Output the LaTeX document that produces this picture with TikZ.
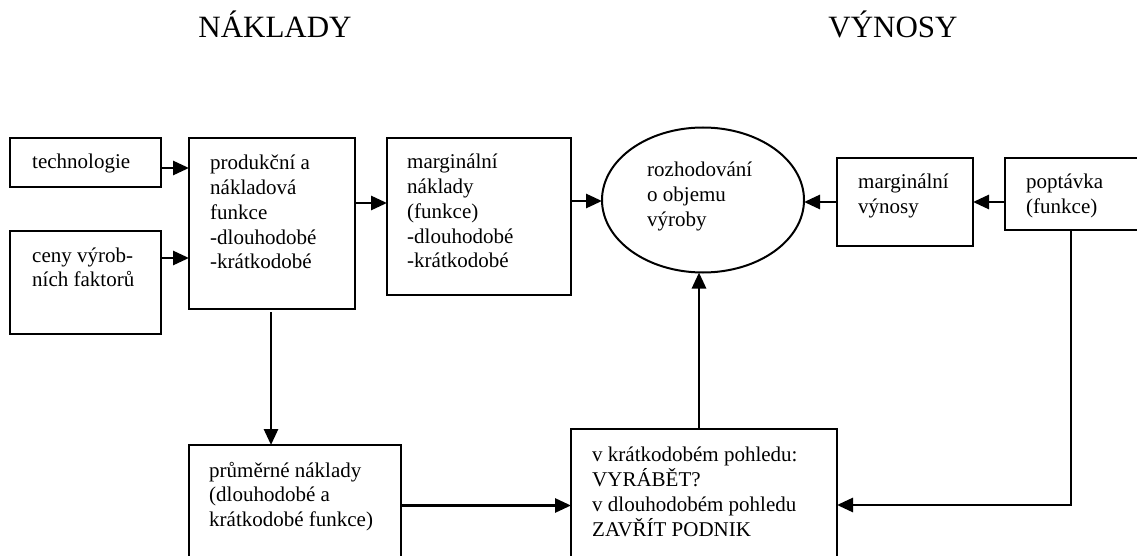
\documentclass[tikz,border=0pt]{standalone}
\usepackage{fontspec}
\setmainfont{Liberation Serif}
\usetikzlibrary{arrows.meta,shapes.geometric,calc}
\tikzset{
  box/.style={draw, line width=2.5pt, inner sep=0pt, outer sep=0pt},
  ell/.style={draw, ellipse, line width=2pt, inner sep=0pt, outer sep=0pt},
  arr/.style={line width=2.8pt, -{Triangle[length=16pt,width=14pt]}},
  txt/.style={anchor=base west, inner sep=0pt, font=\fontsize{21}{24.7}\selectfont},
  ttl/.style={anchor=base, inner sep=0pt, font=\fontsize{31}{36}\selectfont}
}
\newcommand{\lines}[1]{\begin{tabular}[t]{@{}l@{}}#1\end{tabular}}
\begin{document}
\begin{tikzpicture}[x=1pt,y=-1pt]
\useasboundingbox (0,0) rectangle (1137,556);
% titles
\node[ttl] (tnak) at (275,38) {NÁKLADY};
\node[ttl] (tvyn) at (893,38) {VÝNOSY};
% boxes
\node[box, minimum width=151, minimum height=49] (tech) at (85.5,162.5) {};
\node[box, minimum width=151, minimum height=103] (ceny) at (85.5,282.5) {};
\node[box, minimum width=166, minimum height=171] (prod) at (272,223.5) {};
\node[box, minimum width=184, minimum height=157] (marg) at (479,216.5) {};
\node[ell, minimum width=202, minimum height=145] (roz) at (703,200) {};
\node[box, minimum width=136, minimum height=88] (mvyn) at (905,202) {};
\node[box, minimum width=140, minimum height=72] (popt) at (1075,194) {};
\node[box, minimum width=212, minimum height=121] (prum) at (295,505.5) {};
\node[box, minimum width=266, minimum height=137] (vkrat) at (704,497.5) {};
% texts
\node[txt] (ttech) at ($(tech.north west)+(22,31)$) {\lines{technologie}};
\node[txt] (tceny) at ($(ceny.north west)+(22,31)$) {\lines{ceny výrob-\\ních faktorů}};
\node[txt] (tprod) at ($(prod.north west)+(21,32)$) {\lines{produkční a\\nákladová\\funkce\\-dlouhodobé\\-krátkodobé}};
\node[txt] (tmarg) at ($(marg.north west)+(20,31)$) {\lines{marginální\\náklady\\(funkce)\\-dlouhodobé\\-krátkodobé}};
\node[txt] (troz) at ($(roz.west)+(45,-23)$) {\lines{rozhodování\\o objemu\\výroby}};
\node[txt] (tmvyn) at ($(mvyn.north west)+(21,31)$) {\lines{marginální\\výnosy}};
\node[txt] (tpopt) at ($(popt.north west)+(21,31)$) {\lines{poptávka\\(funkce)}};
\node[txt] (tprum) at ($(prum.north west)+(20,32)$) {\lines{průměrné náklady\\(dlouhodobé a\\krátkodobé funkce)}};
\node[txt] (tvkrat) at ($(vkrat.north west)+(21,32)$) {\lines{v krátkodobém pohledu:\\VYRÁBĚT?\\v dlouhodobém pohledu\\ZAVŘÍT PODNIK}};
% connectors
\coordinate (a1) at ($(tech.east)+(0,5.5)$);
\draw[arr] (a1) -- (a1 -| prod.west);
\coordinate (a2) at ($(ceny.east)+(0,-24.5)$);
\draw[arr] (a2) -- (a2 -| prod.west);
\coordinate (a3) at ($(prod.east)+(0,-20.5)$);
\draw[arr] (a3) -- (a3 -| marg.west);
\coordinate (a4) at ($(marg.east)+(0,-15.5)$);
\draw[arr] (a4) -- (a4 -| roz.west);
\draw[arr] (mvyn.west) -- (mvyn.west -| roz.east);
\coordinate (a6) at ($(popt.west)+(0,8)$);
\draw[arr] (a6) -- (a6 -| mvyn.east);
\coordinate (a7) at ($(prod.south)+(-1,0)$);
\draw[arr, shorten <=3pt] (a7) -- (a7 |- prum.north);
\draw[arr] (prum.east) -- (prum.east -| vkrat.west);
\coordinate (a9) at ($(vkrat.north)+(-5,0)$);
\draw[arr] (a9) -- (a9 |- roz.south);
\coordinate (a10) at ($(popt.south)+(-4,0)$);
\coordinate (b10) at ($(vkrat.east)+(0,7.5)$);
\draw[arr] (a10) |- (b10);
\end{tikzpicture}
\end{document}
